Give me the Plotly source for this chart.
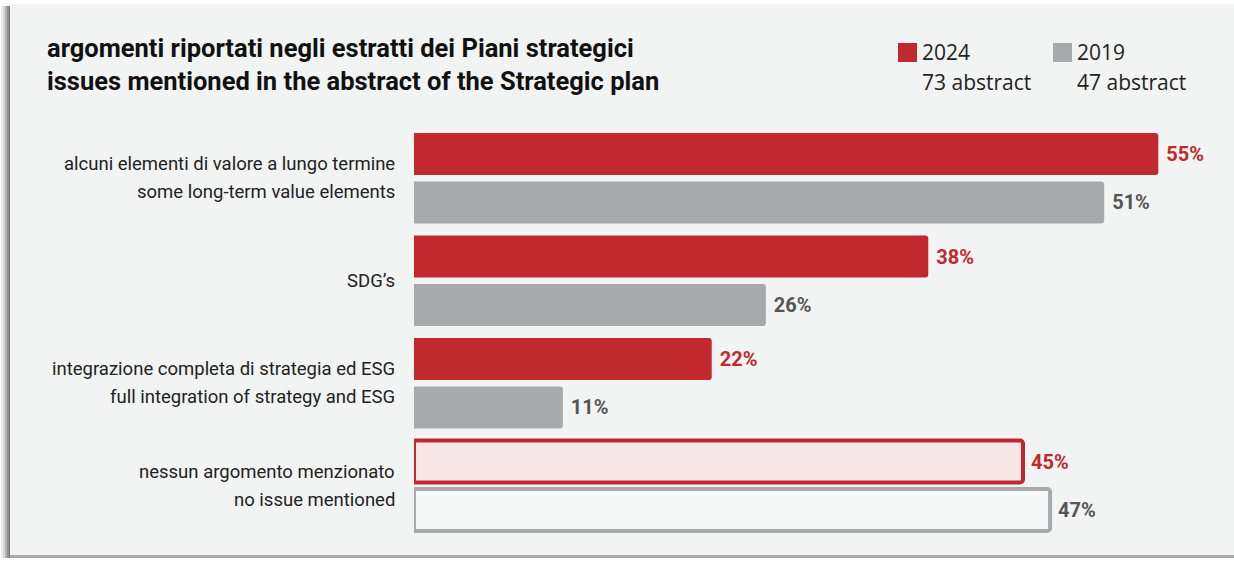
import plotly.graph_objects as go

# data
categorie = ["long", "sdg", "integr", "nessuno"]
etichette = [
    ["alcuni elementi di valore a lungo termine", "some long-term value elements"],
    ["SDG’s"],
    ["integrazione completa di strategia ed ESG", "full integration of strategy and ESG"],
    ["nessun argomento menzionato", "no issue mentioned"],
]
val_2024 = [55, 38, 22, 45]
val_2019 = [51, 26, 11, 47]
serie = ["2024", "2019"]
sottotitoli = ["73 abstract", "47 abstract"]

ROSSO = "#c1292e"
GRIGIO = "#a8a9ac"
SFONDO = "#f2f4f4"
NARROW = "Roboto"

W, H = 1234, 561
L, R, T, B = 414, 8, 127, 24
PW, PH = W - L - R, H - T - B


def px_x(px):
    return (px - L) / PW


def px_y(py):
    return (H - B - py) / PH


fig = go.Figure()
fig.add_trace(go.Bar(
    y=categorie, x=val_2024, orientation="h", name=serie[0],
    marker=dict(color=[ROSSO] * 3 + ["#f9e6e6"],
                line=dict(color=ROSSO, width=[0, 0, 0, 4]),
                cornerradius=3),
    text=[f"\u00a0{v}%" for v in val_2024], textposition="outside",
    textfont=dict(family=NARROW, size=20, color=ROSSO, weight="bold"),
    cliponaxis=False))
fig.add_trace(go.Bar(
    y=categorie, x=val_2019, orientation="h", name=serie[1],
    marker=dict(color=[GRIGIO] * 3 + ["#f6f7f7"],
                line=dict(color=GRIGIO, width=[0, 0, 0, 4]),
                cornerradius=3),
    text=[f"\u00a0{v}%" for v in val_2019], textposition="outside",
    textfont=dict(family=NARROW, size=20, color="#555555", weight="bold"),
    cliponaxis=False))

annotations = []
# category labels, one annotation per line so the spacing can follow the original
for cat, righe in zip(categorie, etichette):
    shifts = [0] if len(righe) == 1 else [14, -14]
    for riga, sh in zip(righe, shifts):
        annotations.append(dict(
            xref="paper", yref="y", x=0, y=cat, xanchor="right", yanchor="middle",
            xshift=-17, yshift=sh, text=riga, showarrow=False,
            font=dict(family=NARROW, size=18.5, color="#222222")))

# title
for testo, py in [("argomenti riportati negli estratti dei Piani strategici", 48),
                  ("issues mentioned in the abstract of the Strategic plan", 81)]:
    annotations.append(dict(
        xref="paper", yref="paper", x=px_x(45), y=px_y(py), xanchor="left",
        yanchor="middle", text=testo, showarrow=False,
        font=dict(family=NARROW, size=25.5, color="#111111", weight="bold")))

# custom legend
shapes = []
for nome, sotto, col, x0 in [(serie[0], sottotitoli[0], ROSSO, 898),
                              (serie[1], sottotitoli[1], GRIGIO, 1053)]:
    shapes.append(dict(type="rect", xref="paper", yref="paper",
                       x0=px_x(x0), x1=px_x(x0 + 19), y0=px_y(62), y1=px_y(43),
                       fillcolor=col, line=dict(width=0)))
    annotations.append(dict(xref="paper", yref="paper", x=px_x(x0 + 22), y=px_y(52),
                            xanchor="left", yanchor="middle", text=nome, showarrow=False,
                            font=dict(family="Open Sans", size=21, color="#222222")))
    annotations.append(dict(xref="paper", yref="paper", x=px_x(x0 + 22), y=px_y(82),
                            xanchor="left", yanchor="middle", text=sotto, showarrow=False,
                            font=dict(family="Open Sans", size=21, color="#222222")))


# panel edges: white margin, left shadow and bottom line (paper itself is the panel colour)
def rect(x0, x1, y0, y1, c):
    shapes.append(dict(type="rect", xref="paper", yref="paper", layer="below",
                       x0=px_x(x0), x1=px_x(x1), y0=px_y(y1), y1=px_y(y0),
                       fillcolor=c, line=dict(width=0)))


rect(0, W, 0, 4, "white")
rect(0, W, 558, H, "white")
rect(0, 10, 0, H, "white")
rect(10, W, 555, 558, "#a9a9a9")
for x0, c in [(1, "#ececec"), (3, "#d4d4d4"), (5, "#b4b4b4"), (7, "#8f8f8f"), (9, "#777777")]:
    rect(x0, 10, 6, 558, c)

fig.update_layout(
    width=W, height=H,
    margin=dict(l=L, r=R, t=T, b=B),
    paper_bgcolor=SFONDO, plot_bgcolor="rgba(0,0,0,0)",
    barmode="group", bargap=0.054, bargroupgap=0.134,
    showlegend=False,
    xaxis=dict(range=[0, 60], visible=False),
    yaxis=dict(autorange="reversed", showticklabels=False, showgrid=False,
               zeroline=False, showline=False, ticks=""),
    annotations=annotations, shapes=shapes,
)

fig.write_html("out.html", config={"displayModeBar": False},
               post_script="document.body.style.margin='0';"
                           "document.body.style.overflow='hidden';")
